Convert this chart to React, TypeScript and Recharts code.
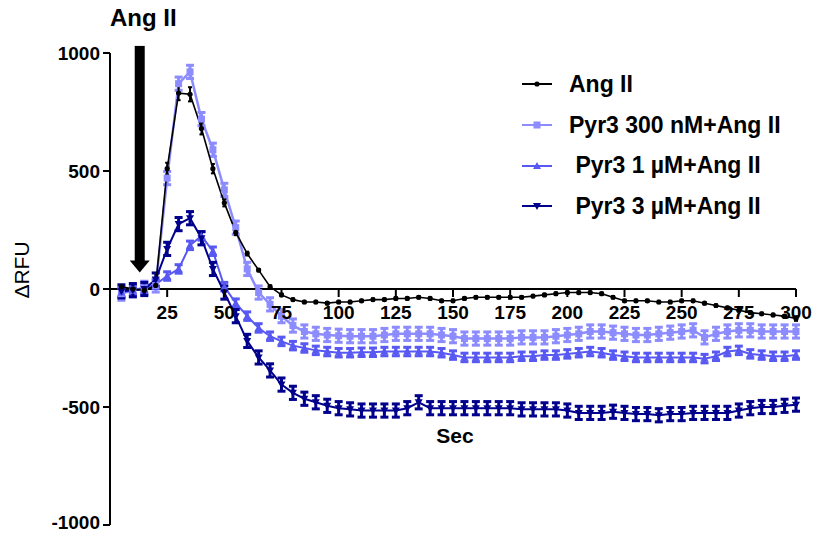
import React from 'react';
import { LineChart, Line, XAxis, YAxis, ErrorBar, ReferenceLine } from 'recharts';

const FONT = '"Liberation Sans", Arial, sans-serif';

// time points (s)
const TIME = [
  5, 10, 15, 20, 25, 30, 35, 40, 45, 50, 55, 60, 65, 70, 75, 80, 85, 90, 95, 100,
  105, 110, 115, 120, 125, 130, 135, 140, 145, 150, 155, 160, 165, 170, 175, 180, 185, 190, 195, 200,
  205, 210, 215, 220, 225, 230, 235, 240, 245, 250, 255, 260, 265, 270, 275, 280, 285, 290, 295, 300,
];

const ANG_II = [
  10, 0, -5, 15, 510, 830, 825, 680, 510, 365, 240, 150, 80, 10, -25, -45, -55, -55, -60, -55,
  -55, -50, -45, -45, -40, -40, -35, -40, -50, -50, -40, -35, -35, -35, -35, -35, -30, -25, -20, -15,
  -15, -15, -20, -35, -50, -50, -50, -55, -55, -50, -50, -60, -70, -80, -90, -100, -105, -110, -115, -125,
];

const PYR3_300NM = [
  -20, -5, 5, 15, 470, 870, 920, 720, 590, 420, 260, 85, -15, -65, -115, -155, -180, -190, -195, -198,
  -200, -200, -200, -195, -190, -190, -190, -190, -195, -200, -210, -210, -210, -210, -210, -205, -205, -205, -200, -195,
  -190, -180, -180, -185, -190, -195, -195, -190, -185, -180, -175, -205, -190, -180, -175, -175, -180, -180, -180, -180,
];

const PYR3_1UM = [
  -15, -5, 0, 20, 55, 85, 185, 225, 160, 10, -60, -115, -165, -200, -222, -240, -250, -260, -265, -270,
  -270, -268, -268, -265, -265, -265, -265, -265, -270, -280, -290, -290, -290, -290, -290, -285, -285, -280, -280, -275,
  -270, -265, -270, -280, -285, -290, -290, -290, -290, -290, -290, -295, -285, -265, -260, -275, -280, -285, -285, -280,
];

const PYR3_3UM = [
  -10, -5, 0, 40, 170, 275, 300, 215, 85, -15, -115, -220, -290, -345, -405, -440, -465, -480, -495, -505,
  -510, -515, -515, -515, -515, -505, -480, -505, -505, -505, -505, -505, -505, -505, -505, -510, -510, -510, -510, -515,
  -525, -525, -525, -520, -525, -530, -530, -535, -530, -530, -525, -525, -525, -525, -515, -505, -500, -500, -495, -490,
];

// SEM
const ANG_II_SEM = [
  5, 5, 5, 5, 25, 30, 30, 25, 20, 15, 12, 8, 5, 5, 5, 5, 5, 5, 5, 5,
  5, 5, 5, 5, 5, 5, 5, 5, 5, 5, 5, 5, 5, 5, 5, 5, 5, 5, 5, 5,
  5, 5, 5, 5, 5, 5, 5, 5, 5, 5, 5, 5, 5, 5, 5, 5, 5, 5, 5, 10,
];
const PYR3_300NM_SEM = 28;
const PYR3_1UM_SEM = 18;
const PYR3_3UM_SEM = 28;

const X_TICKS = [25, 50, 75, 100, 125, 150, 175, 200, 225, 250, 275, 300];
const Y_TICKS = [-1000, -500, 0, 500, 1000];

const data = TIME.map((t, i) => ({
  t,
  ang: ANG_II[i],
  angE: ANG_II_SEM[i],
  p300: PYR3_300NM[i],
  p300E: PYR3_300NM_SEM,
  p1: PYR3_1UM[i],
  p1E: PYR3_1UM_SEM,
  p3: PYR3_3UM[i],
  p3E: PYR3_3UM_SEM,
}));

const W = 814;
const H = 534;
const M = { top: 53, right: 18, bottom: 8, left: 50 };
const PLOT_H = H - M.top - M.bottom - 1;
const ZERO_Y = M.top + PLOT_H * (1000 / 2000);

const BLACK = '#000000';
const LIGHT = '#8c8cff';
const MID = '#5858f2';
const DARK = '#00008c';

type Shape = 'circle' | 'square' | 'up' | 'down';

const marker = (shape: Shape, color: string, cx: number, cy: number, key?: any) => {
  if (shape === 'circle') return <circle key={key} cx={cx} cy={cy} r={2.6} fill={color} />;
  if (shape === 'square') return <rect key={key} x={cx - 3.5} y={cy - 3.5} width={7} height={7} fill={color} />;
  if (shape === 'up')
    return <path key={key} d={`M${cx},${cy - 4} L${cx + 4},${cy + 3} L${cx - 4},${cy + 3} Z`} fill={color} />;
  return <path key={key} d={`M${cx},${cy + 4} L${cx + 4},${cy - 3} L${cx - 4},${cy - 3} Z`} fill={color} />;
};

const mkDot = (shape: Shape, color: string) => (props: any) => {
  const { cx, cy, index } = props;
  if (cx == null || cy == null) return <g key={index} />;
  return marker(shape, color, cx, cy, index);
};

const SERIES = [
  { key: 'ang', label: 'Ang II', color: BLACK, shape: 'circle' as Shape },
  { key: 'p300', label: 'Pyr3 300 nM+Ang II', color: LIGHT, shape: 'square' as Shape },
  { key: 'p1', label: ' Pyr3 1 µM+Ang II', color: MID, shape: 'up' as Shape },
  { key: 'p3', label: ' Pyr3 3 µM+Ang II', color: DARK, shape: 'down' as Shape },
];

const XTick = (props: any) => {
  const { x, payload } = props;
  return (
    <g>
      <line x1={x} x2={x} y1={ZERO_Y} y2={ZERO_Y + 8} stroke={BLACK} strokeWidth={2} />
      <text x={x} y={ZERO_Y + 30} textAnchor="middle" fontFamily={FONT} fontWeight="bold" fontSize={19} fill={BLACK}>
        {payload.value}
      </text>
    </g>
  );
};

// y tick label, kept inside the picture at the bottom edge
const YTick = (props: any) => {
  const { x, y, payload } = props;
  const ty = Math.min(y, H - 12);
  return (
    <text x={x} y={ty} dy="0.355em" textAnchor="end" fontFamily={FONT} fontWeight="bold" fontSize={19} fill={BLACK}>
      {payload.value}
    </text>
  );
};

const ArrowShape = (props: any) => {
  const { x1, y1, y2 } = props;
  const top = Math.min(y1, y2);
  const tip = Math.max(y1, y2);
  const headH = 12;
  return (
    <g>
      <rect x={x1 - 5} y={top} width={10} height={tip - top - headH + 1} fill={BLACK} />
      <path d={`M${x1 - 10},${tip - headH} L${x1 + 10},${tip - headH} L${x1},${tip} Z`} fill={BLACK} />
    </g>
  );
};

const ChartLegend = () => (
  <div style={{ position: 'absolute', left: 520, top: 64, fontFamily: FONT, fontWeight: 'bold', fontSize: 23, color: BLACK }}>
    {SERIES.map((s) => (
      <div key={s.key} style={{ display: 'flex', alignItems: 'center', height: 40.7 }}>
        <svg width={34} height={12} style={{ marginRight: 15 }}>
          <line x1={2} x2={32} y1={6} y2={6} stroke={s.color} strokeWidth={2} />
          {marker(s.shape, s.color, 17, 6)}
        </svg>
        <span style={{ whiteSpace: 'pre' }}>{s.label}</span>
      </div>
    ))}
  </div>
);

export default function App() {
  return (
    <div style={{ position: 'absolute', left: 0, top: 0, width: W, height: H, background: '#fff' }}>
      <LineChart width={W} height={H} data={data} margin={M}>
        <XAxis
          dataKey="t"
          type="number"
          domain={[0, 300]}
          ticks={X_TICKS}
          axisLine={false}
          tickLine={false}
          tick={<XTick />}
          height={1}
          interval={0}
        />
        <YAxis
          type="number"
          domain={[-1000, 1000]}
          ticks={Y_TICKS}
          width={60}
          tickSize={7}
          tickMargin={3}
          axisLine={{ stroke: BLACK, strokeWidth: 2 }}
          tickLine={{ stroke: BLACK, strokeWidth: 2 }}
          tick={<YTick />}
          interval={0}
        />
        <ReferenceLine y={0} stroke={BLACK} strokeWidth={2} />
        <ReferenceLine
          segment={[{ x: 13, y: 1030 }, { x: 13, y: 70 }]}
          ifOverflow="visible"
          shape={<ArrowShape />}
        />
        <Line dataKey="p300" stroke={LIGHT} strokeWidth={2.5} dot={mkDot('square', LIGHT)} isAnimationActive={false}>
          <ErrorBar dataKey="p300E" width={4} stroke={LIGHT} strokeWidth={3} />
        </Line>
        <Line dataKey="p1" stroke={MID} strokeWidth={2} dot={mkDot('up', MID)} isAnimationActive={false}>
          <ErrorBar dataKey="p1E" width={4} stroke={MID} strokeWidth={3} />
        </Line>
        <Line dataKey="p3" stroke={DARK} strokeWidth={2} dot={mkDot('down', DARK)} isAnimationActive={false}>
          <ErrorBar dataKey="p3E" width={4} stroke={DARK} strokeWidth={3} />
        </Line>
        <Line dataKey="ang" stroke={BLACK} strokeWidth={1.6} dot={mkDot('circle', BLACK)} isAnimationActive={false}>
          <ErrorBar dataKey="angE" width={2} stroke={BLACK} strokeWidth={2} />
        </Line>
      </LineChart>
      <ChartLegend />
      <div style={{ position: 'absolute', left: 110, top: 4, width: 66, textAlign: 'center', fontFamily: FONT, fontWeight: 'bold', fontSize: 24, whiteSpace: 'nowrap' }}>
        Ang II
      </div>
      <div style={{ position: 'absolute', left: 425, top: 424, width: 60, textAlign: 'center', fontFamily: FONT, fontWeight: 'bold', fontSize: 21 }}>
        Sec
      </div>
      <div style={{ position: 'absolute', left: 22, top: 270, transform: 'translate(-50%, -50%) rotate(-90deg)', fontFamily: FONT, fontSize: 21, whiteSpace: 'nowrap' }}>
        ΔRFU
      </div>
    </div>
  );
}
